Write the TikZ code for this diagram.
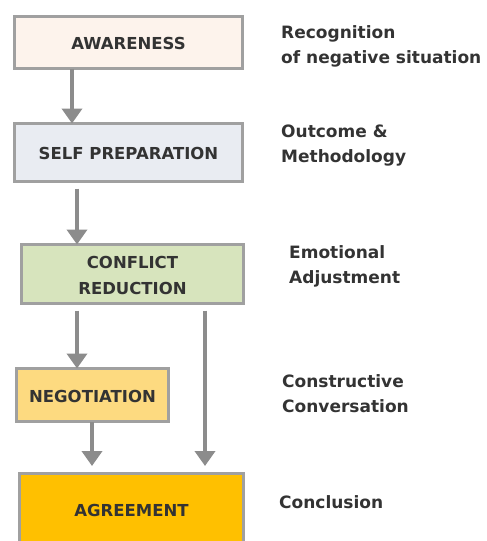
\documentclass[tikz,border=0pt]{standalone}
\usepackage{fontspec}
\setmainfont{DejaVu Sans}
\usepackage{xcolor}
\usetikzlibrary{positioning, arrows.meta}

\definecolor{bordergray}{HTML}{A0A0A0}
\definecolor{arrowgray}{HTML}{8C8C8C}
\definecolor{textgray}{HTML}{333333}
\definecolor{peach}{HTML}{FDF3EC}
\definecolor{paleblue}{HTML}{E9ECF2}
\definecolor{palegreen}{HTML}{D7E4BD}
\definecolor{paleyellow}{HTML}{FDDA80}
\definecolor{gold}{HTML}{FFC000}

\begin{document}
\begin{tikzpicture}[
  x=1pt, y=-1pt,
  stage/.style={draw=bordergray, line width=3pt, outer sep=0pt, inner sep=0pt,
                align=center, text=textgray, text height=14pt, text depth=0pt,
                font=\fontsize{16.5}{26}\selectfont\bfseries},
  note/.style={anchor=base west, inner sep=0pt, align=left, text=textgray,
               font=\fontsize{17}{24.5}\selectfont\bfseries},
  arr/.style={-{Triangle[width=20pt, length=15pt]}, line width=4pt, arrowgray}
]
\useasboundingbox (0,0) rectangle (487,541);
\clip (0,0) rectangle (487,541);
% stages
\node[stage, fill=peach, minimum width=228pt, minimum height=52pt] (aw) at (128.5,42.5) {AWARENESS};
\node[stage, fill=paleblue, minimum width=228pt, minimum height=58pt] (sp) at (128.5,152.5) {SELF PREPARATION};
\node[stage, fill=palegreen, minimum width=222pt, minimum height=59pt, text height=40pt] (cr) at (132.5,274) {CONFLICT\\REDUCTION};
\node[stage, fill=paleyellow, minimum width=152pt, minimum height=53pt] (ng) at (92.5,395) {NEGOTIATION};
\node[stage, fill=gold, minimum width=224pt, minimum height=72pt] (ag) at (131.5,509) {AGREEMENT};
% notes on the right (base = last line)
\node[note] (n1) at (281,63) {Recognition\\of negative situation};
\node[note] (n2) at (281,162) {Outcome \&\\Methodology};
\node[note] (n3) at (289,283) {Emotional\\Adjustment};
\node[note] (n4) at (282,412) {Constructive\\Conversation};
\node[note] (n5) at (279,508) {Conclusion};
% flow
\draw[arr] ([xshift=57.5pt]aw.south west) -- ([xshift=57.5pt]sp.north west);
\draw[arr] ([xshift=62.5pt,yshift=-7pt]sp.south west) -- ([xshift=55.5pt]cr.north west);
\draw[arr] ([xshift=55.5pt,yshift=-7pt]cr.south west) -- ([xshift=60.5pt]ng.north west);
\draw[arr] ([xshift=183.5pt,yshift=-7pt]cr.south west) -- ([xshift=185.5pt,yshift=7pt]ag.north west);
\draw[arr] ([xshift=75.5pt]ng.south west) -- ([xshift=72.5pt,yshift=7pt]ag.north west);
\end{tikzpicture}
\end{document}
